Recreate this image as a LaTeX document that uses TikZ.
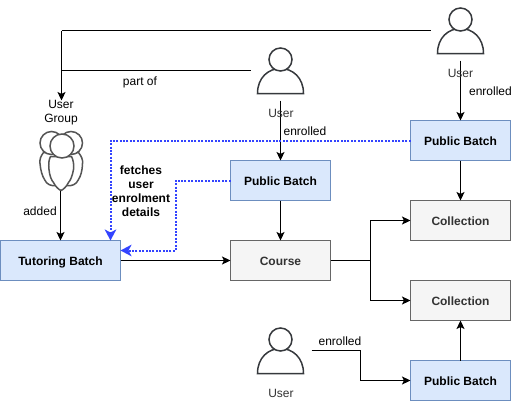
\documentclass[tikz,border=0pt]{standalone}
\usepackage{fontspec}
\setmainfont{Liberation Sans}
\usetikzlibrary{arrows.meta}
\definecolor{bluefill}{HTML}{DAE8FC}
\definecolor{blueline}{HTML}{6C8EBF}
\definecolor{grayfill}{HTML}{F5F5F5}
\definecolor{grayline}{HTML}{666666}
\definecolor{graytext}{HTML}{333333}
\definecolor{iconline}{HTML}{36393D}
\definecolor{groupline}{HTML}{555555}
\definecolor{dotblue}{HTML}{3344FF}
\tikzset{
  boxbase/.style={line width=0.9pt,minimum height=40pt,inner sep=0pt,outer sep=0pt,text height=12pt,text depth=3pt,font=\fontsize{12}{14}\selectfont\bfseries,anchor=north west},
  pbox/.style={boxbase,draw=blueline,fill=bluefill,minimum width=100pt,text=black},
  tbox/.style={boxbase,draw=blueline,fill=bluefill,minimum width=120pt,text=black},
  gbox/.style={boxbase,draw=grayline,fill=grayfill,minimum width=100pt,text=graytext},
  lbl/.style={font=\fontsize{12}{14}\selectfont,text=black,inner sep=0pt,text height=11pt,text depth=3pt},
  ulbl/.style={lbl,text=graytext},
  flbl/.style={font=\fontsize{12}{14}\selectfont\bfseries,text=black,inner sep=0pt,align=center},
  conn/.style={draw=black,line width=0.9pt,-{Stealth[length=8.5pt,width=8pt,inset=2pt]}},
  plainconn/.style={draw=black,line width=0.9pt},
  dotconn/.style={draw=dotblue,line width=2pt,dash pattern=on 2pt off 1.4pt,-{Stealth[length=11pt,width=11.5pt,inset=3pt,fill=dotblue]}},
  iconstyle/.style={draw=iconline,line width=1.5pt,fill=white},
  groupstyle/.style={draw=groupline,line width=1.5pt,fill=white},
}
\newcommand{\usericon}[1]{%
  \begin{scope}[shift={#1}]
    \draw[iconstyle] (-23,23) .. controls (-23,7) and (-12,-2) .. (0,-2) .. controls (12,-2) and (23,7) .. (23,23) -- cycle;
    \draw[iconstyle] (0,-11) circle (11.5);
  \end{scope}}
\begin{document}
\begin{tikzpicture}[x=1pt,y=-1pt]
\useasboundingbox (-0.5,-0.5) rectangle (511.5,401.5);
\fill[white] (-0.5,-0.5) rectangle (511.5,401.5);

\node[tbox] (tutor) at (0,240) {Tutoring Batch};
\node[gbox] (course) at (230,240) {Course};
\node[pbox] (pbmid) at (230,160) {Public Batch};
\node[pbox] (pbright) at (410,120) {Public Batch};
\node[gbox] (coll1) at (410,200) {Collection};
\node[gbox] (coll2) at (410,280) {Collection};
\node[pbox] (pbbot) at (410,360) {Public Batch};

\usericon{(460,30)}
\usericon{(280,70)}
\usericon{(280,350)}

% group icon
\draw[groupstyle] (43,152) .. controls (40,156) and (39,159) .. (39.5,163) .. controls (40,170) and (42,176) .. (44,179) .. controls (46,184) and (51,186) .. (56,185) -- (66,185) .. controls (71,186) and (76,184) .. (78,179) .. controls (80,176) and (82,170) .. (82,163) .. controls (82.5,159) and (81,156) .. (78,152) -- cycle;
\draw[groupstyle] (51,142.5) circle (11.5);
\draw[groupstyle] (70.5,142.5) circle (11.5);
\draw[groupstyle] (50,156) .. controls (48,160) and (48,164) .. (48.5,169) .. controls (49,175) and (51,180) .. (53,182) .. controls (55,186) and (58,189) .. (60.5,190) .. controls (63,189) and (66,186) .. (68,182) .. controls (70,180) and (72,175) .. (73,169) .. controls (73.5,164) and (73,160) .. (71,156) -- cycle;
\draw[groupstyle] (61.5,145.5) circle (12);

\coordinate (grouptop) at (61,100);
\coordinate (grouptopturn) at (61,30);
\coordinate (userrightstart) at (430,30);
\coordinate (usermidstart) at (250,70);
\coordinate (partofjoin) at (61,70);
\coordinate (groupbot) at (60,190);
\coordinate (urightbot) at (460,60);
\coordinate (umidbot) at (280,100);
\coordinate (ubotstart) at (311,350);
\coordinate (split) at (370,260);
\coordinate (bend1) at (360,350);
\coordinate (bend2) at (360,380);

\draw[plainconn] (userrightstart) -- (grouptopturn);
\draw[conn] (grouptopturn) -- (grouptop);
\draw[plainconn] (usermidstart) -- (partofjoin);
\draw[conn] (groupbot) -- (groupbot |- tutor.north);
\draw[conn] (urightbot) -- (pbright.north);
\draw[conn] (umidbot) -- (pbmid.north);
\draw[conn] (pbright.south) -- (coll1.north);
\draw[conn] (pbmid.south) -- (course.north);
\draw[conn] (tutor.east) -- (course.west);
\draw[conn] (course.east) -- (split) |- (coll1.west);
\draw[conn] (split) |- (coll2.west);
\draw[conn] (pbbot.north) -- (coll2.south);
\draw[conn] (ubotstart) -- (bend1) -- (bend2) -- (pbbot.west);

\coordinate (dotA) at (110,140);
\coordinate (dotB) at (175,180);
\coordinate (dotC) at (175,250);
\draw[dotconn] (pbright.west) -- (dotA) -- (dotA |- tutor.north);
\draw[dotconn] (pbmid.west) -- (dotB) -- (dotC) -- (dotC -| tutor.east);

\node[lbl] (lgu) at (60.5,104) {User};
\node[lbl] (lgg) at (60.5,118) {Group};
\node[lbl] (lpart) at (139.5,81) {part of};
\node[lbl] (ladd) at (39.5,211) {added};
\node[ulbl] (lu1) at (460,73) {User};
\node[ulbl] (lu2) at (280.5,113) {User};
\node[ulbl] (lu3) at (280.5,393) {User};
\node[lbl] (le1) at (490,91) {enrolled};
\node[lbl] (le2) at (304.5,131) {enrolled};
\node[lbl] (le3) at (339.5,341) {enrolled};
\node[flbl] (lfetch) at (140.5,191) {fetches\\user\\enrolment\\details};
\end{tikzpicture}
\end{document}
